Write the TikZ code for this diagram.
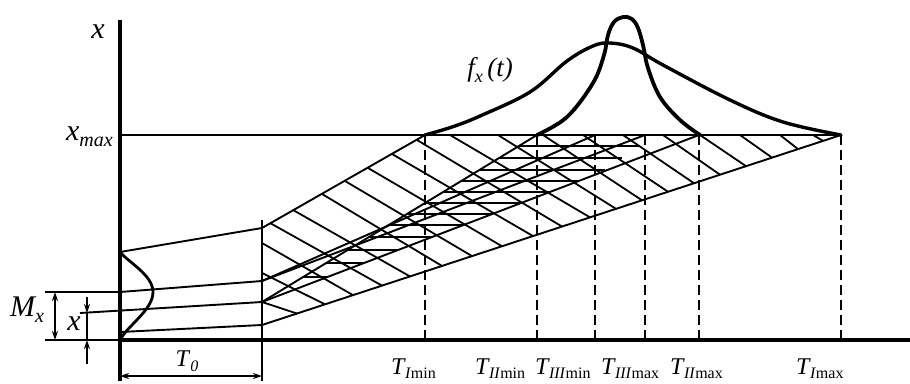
\documentclass[tikz,border=0pt]{standalone}
\usepackage{fontspec}
\setmainfont{Liberation Serif}
\usetikzlibrary{arrows.meta}
\newcommand\subsz[1]{\raisebox{-0.45ex}{\fontsize{16}{16}\selectfont #1}}
\newcommand\Tl[2]{\textit{T}\kern-0.04em\subsz{\textit{#1}#2}}
\begin{document}
\begin{tikzpicture}[x=1pt,y=-1pt,
  axisln/.style={line width=4.2pt},
  thinln/.style={line width=1.9pt},
  hatchln/.style={line width=1.8pt},
  dashln/.style={line width=2pt, dash pattern=on 10pt off 5pt},
  curveln/.style={line width=3.4pt, line join=round, line cap=round},
  biglab/.style={font=\fontsize{30}{32}\selectfont\itshape, inner sep=0pt},
  tlab/.style={font=\fontsize{24}{26}\selectfont, inner sep=0pt},
  dimarr/.style={thinln, {Stealth[length=9pt,width=6pt]}-{Stealth[length=9pt,width=6pt]}},
  onearr/.style={thinln, -{Stealth[length=9pt,width=6pt]}}
]
\useasboundingbox (0,0) rectangle (910,383);

% main points
\coordinate (ytop) at (120,20);
\coordinate (ybot) at (120,381);
\coordinate (O) at (120,340);
\coordinate (xend) at (910,340);
\coordinate (xmL) at (120,135);
\coordinate (xmR) at (841,135);
\coordinate (T0top) at (262,220);
\coordinate (T0bot) at (262,381);
\coordinate (A) at (120,252);
\coordinate (B) at (262,228);
\coordinate (C) at (120,292);
\coordinate (D) at (262,281);
\coordinate (E0) at (80,313);
\coordinate (E) at (262,302);
\coordinate (F) at (120,332);
\coordinate (G) at (262,325);
\coordinate (TImin) at (425,135);
\coordinate (TIImin) at (537,135);
\coordinate (TIIImin) at (595,135);
\coordinate (TIIImax) at (645,135);
\coordinate (TIImax) at (699,135);
\coordinate (TImax) at (841,135);

% band I hatching
\foreach \tx/\ty/\bx in {262/302/297, 262/273/325, 262/243/353, 270/223/382,
  293/210/410, 322/194/442, 345/181/472, 368/168/502, 392/154/533, 417/140/562,
  450/135/590, 498/135/616, 543/135/642, 583/135/668, 623/135/694, 663/135/720,
  700/135/746, 740/135/772, 780/135/798, 813/135/823}
  \draw[hatchln] (\tx,\ty) -- (\bx,{325-0.3282*(\bx-262)});

% band II horizontal hatching
\foreach \y/\r in {146/640, 158/622, 170/605}
  \draw[hatchln] ({262+(302-\y)/0.6073},\y) -- (\r,\y);
\foreach \y in {181,192,203,214,225,237,250,263,277}
  \draw[hatchln] ({262+(302-\y)/0.6073},\y) -- ({262+(302-\y)/0.3822},\y);

% band boundaries
\draw[thinln] (B) -- (TImin);
\draw[thinln] (G) -- (TImax);
\draw[thinln] (E) -- (TIImin);
\draw[thinln] (E) -- (TIImax);
\draw[thinln] (D) -- (TIIImin);
\draw[thinln] (D) -- (TIIImax);

% lines from axis to T0
\draw[thinln] (A) -- (B);
\draw[thinln] (C) -- (D);
\draw[thinln] (E0) -- (E);
\draw[thinln] (F) -- (G);

% x_max line
\draw[thinln] (xmL) -- (xmR);

% dashed verticals
\foreach \n/\xx in {TImin/425, TIImin/537, TIIImin/595, TIIImax/645, TIImax/699, TImax/841}
  \draw[dashln] (\n) -- (\xx,340);

% T0 vertical and dimension
\draw[thinln] (T0top) -- (T0bot);
\coordinate (t0a) at (120,376);
\coordinate (t0b) at (262,376);
\draw[dimarr] (t0a) -- (t0b);
\node[tlab] (T0lab) at (187,361) {\textit{T}\subsz{\textit{0}}};

% M_x dimension
\coordinate (mxa) at (45,292);
\coordinate (mxb) at (45,340);
\draw[thinln] (mxa) -- (C);
\draw[thinln] (mxb) -- (O);
\coordinate (mxu) at (55,292);
\coordinate (mxd) at (55,340);
\draw[dimarr] (mxu) -- (mxd);
\node[biglab] (Mxlab) at (27,310) {M\raisebox{-0.45ex}{\fontsize{20}{20}\selectfont x}};

% x dimension
\coordinate (xda) at (87,297);
\coordinate (xdb) at (87,313);
\coordinate (xdc) at (87,340);
\coordinate (xdd) at (87,364);
\draw[onearr] (xda) -- (xdb);
\draw[thinln] (xdb) -- (xdc);
\draw[onearr] (xdd) -- (xdc);
\node[biglab] (xdlab) at (74,324) {x};

% distribution on the axis
\draw[curveln, line width=2.8pt] (A) .. controls (128,262) and (153,275) .. (153,292)
  .. controls (153,310) and (128,325) .. (O);

% axes
\draw[axisln] (ytop) -- (ybot);
\draw[axisln] (O) -- (xend);

% density curves
\draw[curveln] plot[smooth, tension=0.6] coordinates {(425,135) (452,127) (480,116) (530,92)
  (567,61) (593,46) (610,43) (633,48) (663,65) (730,100) (783,122) (841,135)};
\draw[curveln, line width=3.8pt] plot[smooth, tension=0.6] coordinates {(537,135) (567,117) (593,83)
  (604,55) (608,35) (614,22) (623,17) (632,19) (638,28) (643,45) (648,68) (660,97)
  (680,120) (700,135)};

% labels
\node[biglab] (xlab) at (98,32) {x};
\node[biglab, anchor=east] (xmaxlab) at (113,137) {x\raisebox{-0.45ex}{\fontsize{20}{20}\selectfont max}};
\node[inner sep=0pt, font=\fontsize{27}{29}\selectfont\itshape] (flab) at (490,70)
  {f\raisebox{-0.45ex}{\fontsize{18}{18}\selectfont x}\,(t)};

\node[tlab, anchor=base west] (l1) at (391,374) {\Tl{I}{min}};
\node[tlab, anchor=base west] (l2) at (475,374) {\Tl{II}{min}};
\node[tlab, anchor=base west] (l3) at (535,374) {\Tl{III}{min}};
\node[tlab, anchor=base west] (l4) at (601,374) {\Tl{III}{max}};
\node[tlab, anchor=base west] (l5) at (670,374) {\Tl{II}{max}};
\node[tlab, anchor=base west] (l6) at (796,374) {\Tl{I}{max}};
\end{tikzpicture}
\end{document}
